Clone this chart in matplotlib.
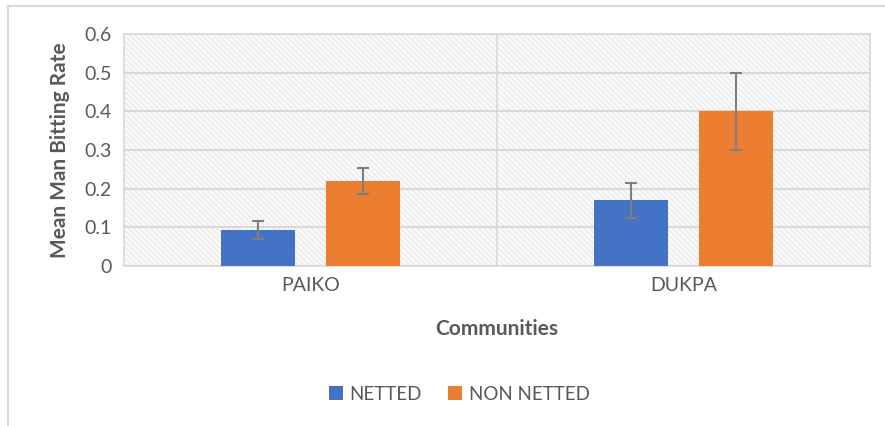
import matplotlib

matplotlib.use("Agg")

import matplotlib.pyplot as plt
import numpy as np
from matplotlib.patches import Rectangle

communities = ["PAIKO", "DUKPA"]
series_names = ["NETTED", "NON NETTED"]
netted = [0.093, 0.170]
netted_err = [0.023, 0.045]
non_netted = [0.220, 0.400]
non_netted_err = [0.034, 0.099]

COLORS = {
    "netted": "#4472c4",
    "non_netted": "#ed7d31",
    "text": "#595959",
    "grid": "#d9d9d9",
    "hatch": "#e8e8e8",
    "err": "#7f7f7f",
}

plt.rcParams["font.family"] = ["Lato", "DejaVu Sans"]
plt.rcParams["hatch.linewidth"] = 0.8

fig = plt.figure(figsize=(8.85, 4.26), dpi=100)
ax = fig.add_axes([124 / 885, 1 - 266 / 426, (870 - 124) / 885, (266 - 34) / 426])

# outer chart frame (cut off on right and bottom like the reference)
fig.patches.append(
    Rectangle((8 / 885, -0.05), 1.1, 1.05 - 6 / 426, transform=fig.transFigure,
              fill=False, edgecolor=COLORS["grid"], lw=1.5, zorder=0)
)

# hatched plot area
ax.add_patch(Rectangle((0, 0), 1, 1, transform=ax.transAxes, facecolor="#fafafa",
                       edgecolor=COLORS["hatch"], lw=0, hatch="\\\\\\\\\\\\", zorder=0))

x = np.arange(len(communities))
width = 0.196
offset = 0.1408
err_kw = {"ecolor": COLORS["err"], "elinewidth": 1.5, "capsize": 4.5, "capthick": 1.5}
ax.bar(x - offset, netted, width, yerr=netted_err, color=COLORS["netted"],
       label=series_names[0], error_kw=err_kw, zorder=3)
ax.bar(x + offset, non_netted, width, yerr=non_netted_err, color=COLORS["non_netted"],
       label=series_names[1], error_kw=err_kw, zorder=3)

ax.set_xlim(-0.5, len(communities) - 0.5)
ax.set_ylim(0, 0.6)
ax.set_yticks(np.arange(0, 0.61, 0.1))
ax.set_yticklabels(["0", "0.1", "0.2", "0.3", "0.4", "0.5", "0.6"])
ax.set_xticks(x)
ax.set_xticklabels(communities)
ax.grid(axis="y", color=COLORS["grid"], lw=1.5, zorder=1)
for b in np.arange(0.5, len(communities) - 0.5, 1):
    ax.axvline(b, color=COLORS["grid"], lw=1.2, zorder=1)
for s in ax.spines.values():
    s.set_color(COLORS["grid"])
    s.set_linewidth(1.2)
ax.tick_params(axis="both", length=0, colors=COLORS["text"], labelsize=14)
ax.tick_params(axis="y", pad=9)
ax.tick_params(axis="x", pad=8)

ax.set_xlabel("Communities", fontsize=15, fontweight="bold", color=COLORS["text"], labelpad=18)
ax.set_ylabel("Mean Man Bitting Rate", fontsize=15, fontweight="bold", color=COLORS["text"], labelpad=10)

leg = fig.legend(loc="center", bbox_to_anchor=(459 / 885, 1 - 394 / 426), ncol=2, frameon=False,
                 fontsize=13.5, handlelength=0.75, handleheight=0.75, columnspacing=1.4, handletextpad=0.35)
for t in leg.get_texts():
    t.set_color(COLORS["text"])

fig.savefig("out.png", dpi=100)
